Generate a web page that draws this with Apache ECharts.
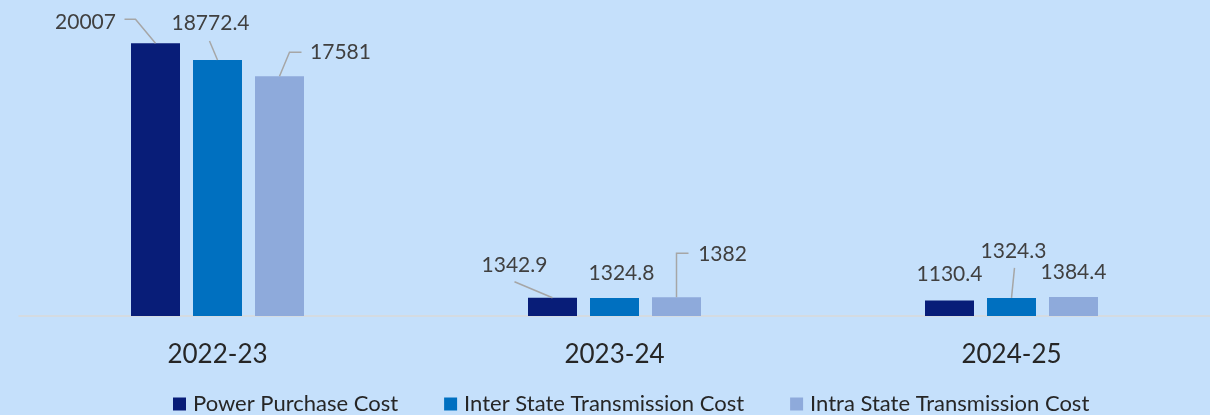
<!DOCTYPE html>
<html>
<head>
<meta charset="utf-8">
<script src="https://cdn.jsdelivr.net/npm/echarts@6/dist/echarts.min.js"></script>
<style>
html,body{margin:0;padding:0;background:#c5e0fb;}
#chart{width:1210px;height:415px;}
</style>
</head>
<body>
<div id="chart"></div>
<script>
const categories = ['2022-23', '2023-24', '2024-25'];
const seriesNames = ['Power Purchase Cost', 'Inter State Transmission Cost', 'Intra State Transmission Cost'];
const powerPurchase = [20007, 1342.9, 1130.4];
const interState = [18772.4, 1324.8, 1324.3];
const intraState = [17581, 1382, 1384.4];

const values = [powerPurchase, interState, intraState];
const colors = ['#081d78', '#0070c0', '#8eaadb'];

const BAR_W = 49;
const BAR_GAP = 13;

// label placement relative to bar top centre (px)
const labelOffsets = [
  [[-70, -21], [-38, -32], [0, -26]],
  [[-7, -37], [7, -25], [2, -47]],
  [[61, -24], [46, -43], [0, -25]]
];
// leader line points relative to bar top centre (px); null = no line
const leaderLines = [
  [[[0, 0], [-20, -24], [-31, -24]], [[0, 0], [-38, -16]], null],
  [[[0, 0], [-8, -19]], null, [[0, 0], [3, -30]]],
  [[[0, 0], [10, -24], [22, -24]], [[0, 0], [0, -44], [12, -44]], null]
];

const FONT = 'Lato, "Noto Sans", sans-serif';
const chart = echarts.init(document.getElementById('chart'));

const barSeries = values.map((vals, s) => ({
  name: seriesNames[s],
  type: 'bar',
  barWidth: BAR_W,
  barGap: (BAR_GAP / BAR_W * 100) + '%',
  itemStyle: { color: colors[s] },
  data: vals,
  label: {
    show: true,
    position: 'top',
    color: '#404040',
    fontSize: 21,
    fontFamily: FONT
  },
  labelLayout: function (params) {
    const r = params.rect;
    const cx = r.x + r.width / 2;
    const top = Math.min(r.y, r.y + r.height);
    const off = labelOffsets[s][params.dataIndex];
    return {
      x: cx + off[0],
      y: top + off[1],
      align: 'center',
      verticalAlign: 'middle'
    };
  }
}));

// leader line data: [categoryIndex, value, seriesIndex]
const leaderData = [];
values.forEach((vals, s) => vals.forEach((v, i) => {
  if (leaderLines[s][i]) leaderData.push([i, v, s]);
}));

const leaderSeries = {
  type: 'custom',
  name: 'leaders',
  silent: true,
  z: 3,
  data: leaderData,
  renderItem: function (params, api) {
    const i = api.value(0), v = api.value(1), s = api.value(2);
    const c = api.coord([i, v]);
    const cx = c[0] + (s - 1) * (BAR_W + BAR_GAP);
    const pts = leaderLines[s][i].map(p => [cx + p[0], c[1] + p[1]]);
    return {
      type: 'polyline',
      shape: { points: pts },
      style: { stroke: '#a6a6a6', lineWidth: 1.5, fill: null }
    };
  }
};

chart.setOption({
  backgroundColor: '#c5e0fb',
  animation: false,
  grid: { left: 19, right: -2, top: 16, bottom: 99, containLabel: false },
  legend: {
    top: 388,
    left: 168,
    icon: 'rect',
    itemWidth: 13,
    itemHeight: 13,
    itemGap: 46,
    textStyle: { color: '#262626', fontSize: 22, fontFamily: FONT, padding: [0, 0, 0, 2] },
    data: seriesNames
  },
  xAxis: {
    type: 'category',
    data: categories,
    axisLine: { show: true, lineStyle: { color: '#d9d9d9', width: 1.5 } },
    axisTick: { show: false },
    axisLabel: { color: '#262626', fontSize: 26, fontFamily: FONT, margin: 26 }
  },
  yAxis: {
    type: 'value',
    min: 0,
    max: 22000,
    show: false,
    splitLine: { show: false }
  },
  series: barSeries.concat([leaderSeries])
});
</script>
</body>
</html>
